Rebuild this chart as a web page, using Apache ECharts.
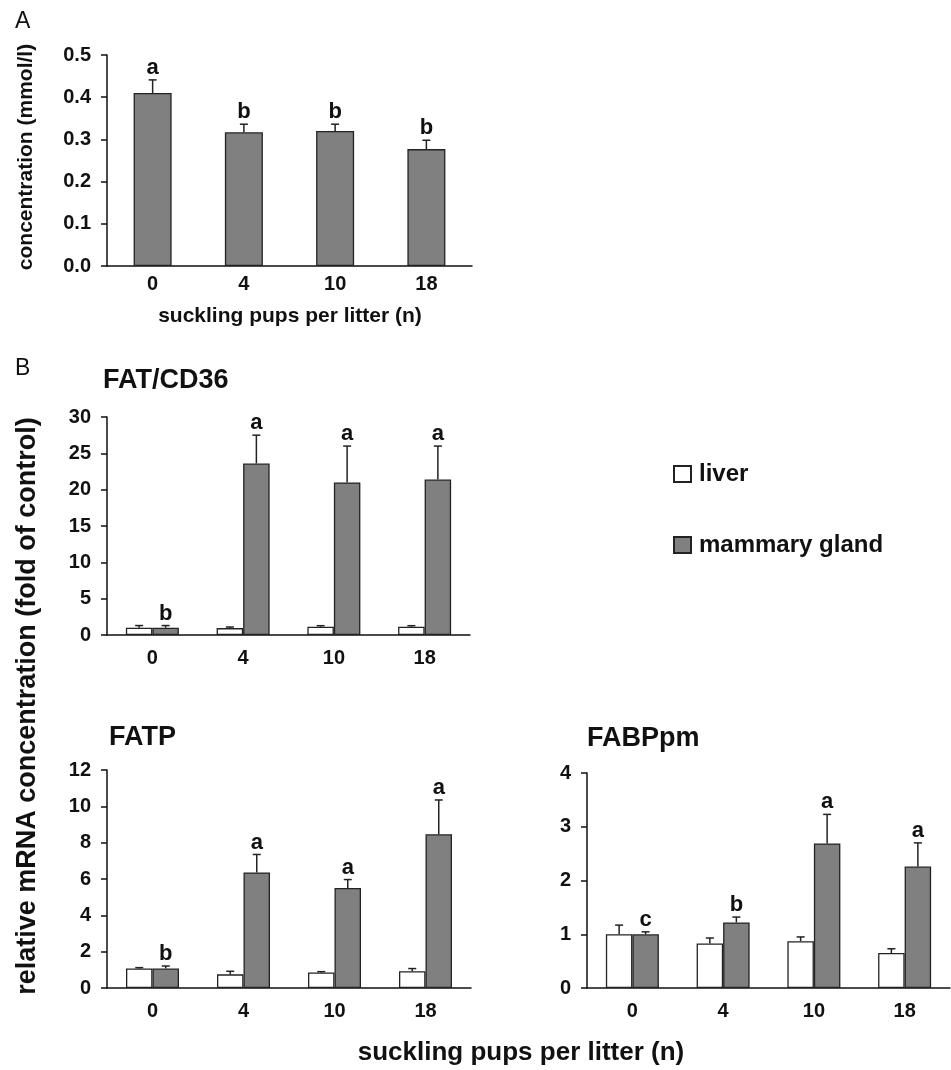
<!DOCTYPE html>
<html>
<head>
<meta charset="utf-8">
<script src="https://cdn.jsdelivr.net/npm/echarts@6/dist/echarts.min.js"></script>
<style>
  html, body { margin: 0; padding: 0; background: #fff; }
  #chart { width: 951px; height: 1070px; }
</style>
</head>
<body>
<div id="chart"></div>
<script>
// data
var pups = ['0', '4', '10', '18'];

// panel A: plasma concentration (mmol/l)
var concMean = [0.41, 0.317, 0.32, 0.277];
var concErr = [0.441, 0.336, 0.336, 0.298];
var concLetters = ['a', 'b', 'b', 'b'];

// FAT/CD36
var fatLiver = [1.0, 0.95, 1.15, 1.15];
var fatLiverErr = [1.3, 1.1, 1.28, 1.28];
var fatGland = [1.0, 23.6, 21.0, 21.4];
var fatGlandErr = [1.3, 27.5, 26.0, 26.0];
var fatLetters = ['b', 'a', 'a', 'a'];

// FATP
var fatpLiver = [1.07, 0.75, 0.85, 0.92];
var fatpLiverErr = [1.12, 0.92, 0.9, 1.07];
var fatpGland = [1.07, 6.36, 5.51, 8.46];
var fatpGlandErr = [1.21, 7.35, 5.97, 10.35];
var fatpLetters = ['b', 'a', 'a', 'a'];

// FABPpm
var fabpLiver = [1.0, 0.83, 0.87, 0.65];
var fabpLiverErr = [1.17, 0.93, 0.95, 0.73];
var fabpGland = [1.0, 1.22, 2.69, 2.26];
var fabpGlandErr = [1.045, 1.32, 3.23, 2.70];
var fabpLetters = ['c', 'b', 'a', 'a'];

var FONT = '"Liberation Sans", Arial, Helvetica, sans-serif';
var INK = '#111';
var GRAY = '#808080';

var chart = echarts.init(document.getElementById('chart'));

function xAxisFor(gi, margin) {
  return {
    type: 'category', gridIndex: gi, data: pups,
    axisLine: { lineStyle: { color: INK, width: 1.5 } },
    axisTick: { length: 6, lineStyle: { color: INK, width: 1.5 } },
    axisLabel: { color: INK, fontFamily: FONT, fontWeight: 'bold', fontSize: 20, margin: margin }
  };
}

function yAxisFor(gi, max, interval, fmt) {
  return {
    type: 'value', gridIndex: gi, min: 0, max: max, interval: interval,
    splitLine: { show: false },
    axisLine: { show: true, lineStyle: { color: INK, width: 1.5 } },
    axisTick: { show: true, length: 6, lineStyle: { color: INK, width: 1.5 } },
    axisLabel: { color: INK, fontFamily: FONT, fontWeight: 'bold', fontSize: 20, margin: 16, formatter: fmt }
  };
}

function barSeries(name, gi, vals, fill, width) {
  return {
    name: name, type: 'bar', xAxisIndex: gi, yAxisIndex: gi,
    data: vals, barWidth: width, barGap: '0%',
    itemStyle: { color: fill, borderColor: '#222', borderWidth: 1.3 },
    silent: true, animation: false
  };
}

// error bar (upper half only) plus significance letter, drawn over a bar
function errSeries(gi, means, tops, letters, offset) {
  var data = means.map(function (m, i) { return [i, m, tops[i]]; });
  return {
    type: 'custom', xAxisIndex: gi, yAxisIndex: gi, z: 5, silent: true, animation: false,
    data: data,
    renderItem: function (params, api) {
      var i = api.value(0);
      var base = api.coord([i, api.value(1)]);
      var top = api.coord([i, api.value(2)]);
      var x = base[0] + offset;
      var children = [
        { type: 'line', shape: { x1: x, y1: base[1], x2: x, y2: top[1] },
          style: { stroke: '#222', lineWidth: 1.5 } },
        { type: 'line', shape: { x1: x - 4, y1: top[1], x2: x + 4, y2: top[1] },
          style: { stroke: '#222', lineWidth: 1.5 } }
      ];
      if (letters && letters[i]) {
        children.push({
          type: 'text', x: x, y: top[1] - 1,
          style: { text: letters[i], fill: INK, font: 'bold 22px ' + FONT, textAlign: 'center', textVerticalAlign: 'bottom' }
        });
      }
      return { type: 'group', children: children };
    }
  };
}

var W = 26.5;

var option = {
  backgroundColor: '#fff',
  textStyle: { fontFamily: FONT },
  grid: [
    { left: 107, top: 55, width: 365, height: 211 },
    { left: 107, top: 417, width: 363, height: 218 },
    { left: 107, top: 770, width: 364, height: 218 },
    { left: 587, top: 773, width: 363, height: 215 }
  ],
  xAxis: [xAxisFor(0, 8), xAxisFor(1, 13), xAxisFor(2, 13), xAxisFor(3, 13)],
  yAxis: [
    yAxisFor(0, 0.5, 0.1, function (v) { return v.toFixed(1); }),
    yAxisFor(1, 30, 5),
    yAxisFor(2, 12, 2),
    yAxisFor(3, 4, 1)
  ],
  legend: {
    data: ['liver', 'mammary gland'],
    orient: 'vertical', left: 673, top: 462, padding: 0,
    itemWidth: 17, itemHeight: 16, itemGap: 47, icon: 'rect',
    textStyle: { color: INK, fontFamily: FONT, fontWeight: 'bold', fontSize: 24, padding: [0, 0, 0, 3] },
    selectedMode: false
  },
  graphic: [
    { type: 'text', left: 15, top: 10, style: { text: 'A', font: '23px ' + FONT, fill: INK } },
    { type: 'text', left: 15, top: 357, style: { text: 'B', font: '23px ' + FONT, fill: INK } },
    { type: 'text', x: 103, y: 381, style: { text: 'FAT/CD36', font: 'bold 27px ' + FONT, fill: INK, textVerticalAlign: 'middle' } },
    { type: 'text', x: 109, y: 738, style: { text: 'FATP', font: 'bold 27px ' + FONT, fill: INK, textVerticalAlign: 'middle' } },
    { type: 'text', x: 587, y: 739, style: { text: 'FABPpm', font: 'bold 27px ' + FONT, fill: INK, textVerticalAlign: 'middle' } },
    { type: 'text', x: 290, y: 316, style: { text: 'suckling pups per litter (n)', font: 'bold 21px ' + FONT, fill: INK, textAlign: 'center', textVerticalAlign: 'middle' } },
    { type: 'text', x: 26, y: 157, rotation: Math.PI / 2, style: { text: 'concentration (mmol/l)', font: 'bold 21px ' + FONT, fill: INK, textAlign: 'center', textVerticalAlign: 'middle' } },
    { type: 'text', x: 521, y: 1053, style: { text: 'suckling pups per litter (n)', font: 'bold 26px ' + FONT, fill: INK, textAlign: 'center', textVerticalAlign: 'middle' } },
    { type: 'text', x: 28, y: 706, rotation: Math.PI / 2, style: { text: 'relative mRNA concentration (fold of control)', font: 'bold 27px ' + FONT, fill: INK, textAlign: 'center', textVerticalAlign: 'middle' } }
  ],
  series: [
    barSeries('concentration', 0, concMean, GRAY, 38),
    errSeries(0, concMean, concErr, concLetters, 0),

    barSeries('liver', 1, fatLiver, '#fff', W),
    barSeries('mammary gland', 1, fatGland, GRAY, W),
    errSeries(1, fatLiver, fatLiverErr, null, -W / 2),
    errSeries(1, fatGland, fatGlandErr, fatLetters, W / 2),

    barSeries('liver', 2, fatpLiver, '#fff', W),
    barSeries('mammary gland', 2, fatpGland, GRAY, W),
    errSeries(2, fatpLiver, fatpLiverErr, null, -W / 2),
    errSeries(2, fatpGland, fatpGlandErr, fatpLetters, W / 2),

    barSeries('liver', 3, fabpLiver, '#fff', W),
    barSeries('mammary gland', 3, fabpGland, GRAY, W),
    errSeries(3, fabpLiver, fabpLiverErr, null, -W / 2),
    errSeries(3, fabpGland, fabpGlandErr, fabpLetters, W / 2)
  ]
};

chart.setOption(option);
</script>
</body>
</html>
